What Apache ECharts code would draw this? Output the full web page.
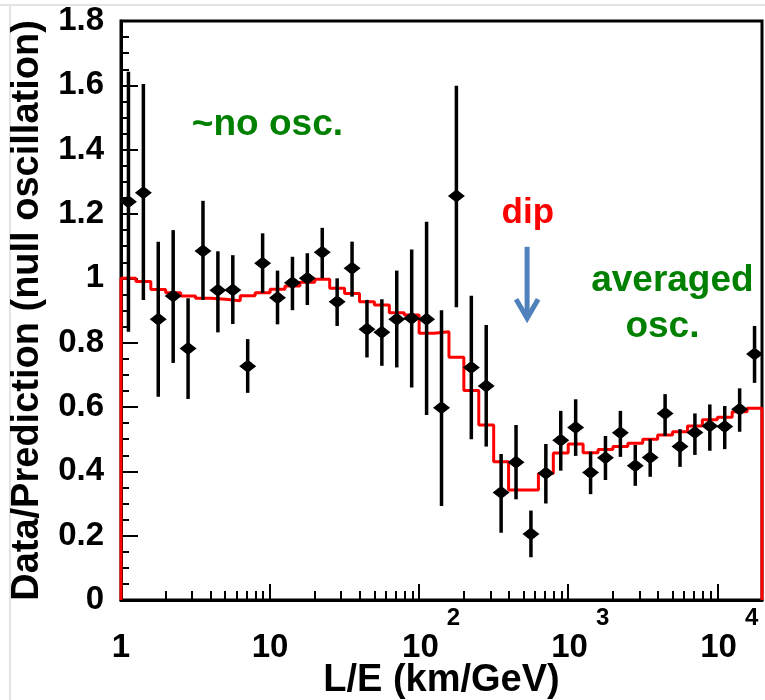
<!DOCTYPE html>
<html>
<head>
<meta charset="utf-8">
<script src="https://cdn.jsdelivr.net/npm/echarts@6/dist/echarts.min.js"></script>
<style>
  html, body { margin: 0; padding: 0; background: #fff; }
  #chart { width: 765px; height: 700px; }
</style>
</head>
<body>
<div id="chart"></div>
<script>
// histogram bin edges in L/E (km/GeV)
const binEdges = [1, 1.259, 1.585, 1.995, 2.512, 3.162, 3.981, 5.012, 6.310, 7.943,
  10, 12.59, 15.85, 19.95, 25.12, 31.62, 39.81, 50.12, 63.10, 79.43,
  100, 125.9, 158.5, 199.5, 251.2, 316.2, 398.1, 501.2, 631.0, 794.3,
  1000, 1259, 1585, 1995, 2512, 3162, 3981, 5012, 6310, 7943,
  10000, 12589, 15849, 19953];

// red prediction (oscillation fit), one value per bin
const predicted = [1.0, 0.99, 0.965, 0.955, 0.945, 0.938, 0.935, 0.93, 0.946, 0.955,
  0.966, 0.976, 0.988, 0.997, 0.969, 0.953, 0.927, 0.917, 0.893, 0.886,
  0.829, 0.834, 0.755, 0.651, 0.544, 0.43, 0.342, 0.342, 0.393, 0.457,
  0.485, 0.458, 0.468, 0.477, 0.487, 0.5, 0.513, 0.523, 0.541, 0.56,
  0.568, 0.585, 0.596];

// data points
const pointLE = [1.122, 1.413, 1.778, 2.239, 2.818, 3.548, 4.467, 5.623, 7.079, 8.913,
  11.22, 14.13, 17.78, 22.39, 28.18, 35.48, 44.67, 56.23, 70.79, 89.13,
  112.2, 141.3, 177.8, 223.9, 281.8, 354.8, 446.7, 562.3, 707.9, 891.3,
  1122, 1413, 1778, 2239, 2818, 3548, 4467, 5623, 7079, 8913,
  11220, 14125, 17783];
const ratio = [1.238, 1.266, 0.873, 0.945, 0.782, 1.085, 0.963, 0.964, 0.727, 1.047,
  0.94, 0.986, 1.0, 1.081, 0.927, 1.031, 0.842, 0.832, 0.873, 0.876,
  0.873, 0.598, 1.256, 0.723, 0.665, 0.334, 0.428, 0.205, 0.394, 0.497,
  0.536, 0.396, 0.442, 0.52, 0.417, 0.443, 0.58, 0.477, 0.521, 0.541,
  0.539, 0.593, 0.765];
const errLow = [0.834, 0.933, 0.632, 0.737, 0.625, 0.933, 0.832, 0.858, 0.644, 0.955,
  0.857, 0.901, 0.917, 1.0, 0.852, 0.943, 0.754, 0.728, 0.723, 0.661,
  0.575, 0.292, 0.91, 0.5, 0.477, 0.209, 0.313, 0.133, 0.3, 0.402,
  0.448, 0.329, 0.373, 0.445, 0.355, 0.383, 0.51, 0.414, 0.451, 0.464,
  0.469, 0.523, 0.675];
const errHigh = [1.642, 1.604, 1.114, 1.15, 0.938, 1.241, 1.084, 1.072, 0.811, 1.14,
  1.024, 1.067, 1.078, 1.157, 1.0, 1.114, 0.933, 0.935, 1.024, 1.09,
  1.176, 0.901, 1.599, 0.946, 0.855, 0.454, 0.544, 0.278, 0.485, 0.588,
  0.624, 0.461, 0.51, 0.588, 0.482, 0.5, 0.64, 0.531, 0.58, 0.608,
  0.603, 0.658, 0.852];

// axis ticks
const majorX = [1, 10, 100, 1000, 10000];
const minorX = [2, 3, 4, 5, 6, 7, 8, 9, 20, 30, 40, 50, 60, 70, 80, 90,
  200, 300, 400, 500, 600, 700, 800, 900, 2000, 3000, 4000, 5000, 6000, 7000, 8000, 9000];

// annotations (data coordinates)
const notes = [
  { text: '~no osc.', at: [9.6, 1.477], color: '#008000', size: 37 },
  { text: 'dip', at: [536, 1.203], color: '#ff0000', size: 35 },
  { text: 'averaged', at: [5000, 0.992], color: '#008000', size: 37 },
  { text: 'osc.', at: [4285, 0.849], color: '#008000', size: 37 }
];
const arrowFrom = [530, 1.098];
const arrowTo = [530, 0.87];

const FONT = "'Liberation Sans', Arial, sans-serif";

const histData = [[binEdges[0], 0]];
predicted.forEach((v, i) => histData.push([binEdges[i], v]));
histData.push([binEdges[binEdges.length - 1], predicted[predicted.length - 1]]);
histData.push([binEdges[binEdges.length - 1], 0]);

const pointData = pointLE.map((x, i) => [x, ratio[i], errLow[i], errHigh[i]]);

const chart = echarts.init(document.getElementById('chart'));

const xLog = {
  type: 'log',
  logBase: 10,
  min: 1,
  max: 19953,
  position: 'bottom',
  splitLine: { show: false },
  minorTick: { show: false },
  minorSplitLine: { show: false }
};

const option = {
  backgroundColor: '#fff',
  animation: false,
  grid: {
    left: 121,
    right: 3,
    top: 21,
    bottom: 100,
    show: true,
    borderColor: '#000',
    borderWidth: 3,
    backgroundColor: 'transparent',
    outerBoundsMode: 'none'
  },
  xAxis: [
    Object.assign({}, xLog, {
      axisLine: { show: true, lineStyle: { color: '#000', width: 3 } },
      axisTick: { show: true, inside: true, length: 16, customValues: majorX,
        lineStyle: { color: '#000', width: 2 } },
      axisLabel: {
        customValues: majorX,
        margin: 6,
        hideOverlap: false,
        formatter: v => {
          const e = Math.round(Math.log10(v));
          return e < 2 ? '{b|' + Math.pow(10, e) + '}' : '{bp|10}{s|' + e + '}';
        },
        rich: {
          b: { fontSize: 33, fontWeight: 'bold', fontFamily: FONT, color: '#000',
            lineHeight: 58, verticalAlign: 'bottom' },
          bp: { fontSize: 33, fontWeight: 'bold', fontFamily: FONT, color: '#000',
            lineHeight: 58, verticalAlign: 'bottom', padding: [0, 0, 0, 24] },
          s: { fontSize: 24, fontWeight: 'bold', fontFamily: FONT, color: '#000',
            verticalAlign: 'top', padding: [0, 0, 0, 8] }
        }
      },
      name: 'L/E (km/GeV)',
      nameLocation: 'middle',
      nameGap: 62,
      nameMoveOverlap: false,
      nameTextStyle: { fontSize: 38, fontWeight: 'bold', fontFamily: FONT, color: '#000' }
    }),
    Object.assign({}, xLog, {
      axisLine: { show: false },
      axisTick: { show: true, inside: true, length: 9, customValues: minorX,
        lineStyle: { color: '#000', width: 2 } },
      axisLabel: { show: false }
    })
  ],
  yAxis: {
    type: 'value',
    min: 0,
    max: 1.8,
    interval: 0.2,
    splitLine: { show: false },
    axisLine: { show: true, lineStyle: { color: '#000', width: 3 } },
    axisTick: { show: true, inside: true, length: 17, lineStyle: { color: '#000', width: 2 } },
    minorTick: { show: true, splitNumber: 4, length: 8, lineStyle: { color: '#000', width: 2 } },
    axisLabel: { fontSize: 33, fontWeight: 'bold', fontFamily: FONT, color: '#000', margin: 17 },
    name: 'Data/Prediction (null oscillation)',
    nameLocation: 'middle',
    nameGap: 74,
    nameMoveOverlap: false,
    nameTextStyle: { fontSize: 38, fontWeight: 'bold', fontFamily: FONT, color: '#000' }
  },
  series: [
    {
      type: 'line',
      name: 'prediction',
      data: histData,
      step: 'end',
      symbol: 'none',
      clip: false,
      z: 3,
      lineStyle: { color: '#ff0000', width: 3 }
    },
    {
      type: 'custom',
      name: 'data',
      data: pointData,
      encode: { x: 0, y: 1 },
      z: 4,
      renderItem: (params, api) => {
        const p = api.coord([api.value(0), api.value(1)]);
        const lo = api.coord([api.value(0), api.value(2)]);
        const hi = api.coord([api.value(0), api.value(3)]);
        return {
          type: 'group',
          children: [
            { type: 'line', shape: { x1: p[0], y1: hi[1], x2: p[0], y2: lo[1] },
              style: { stroke: '#000', lineWidth: 3.5 } },
            { type: 'polygon',
              shape: { points: [[p[0] - 8.5, p[1]], [p[0], p[1] - 6.5], [p[0] + 8.5, p[1]], [p[0], p[1] + 6.5]] },
              style: { fill: '#000' } },
            { type: 'circle', shape: { cx: p[0], cy: p[1], r: 5 }, style: { fill: '#000' } }
          ]
        };
      }
    }
  ]
};

chart.setOption(option);

// annotations placed from data coordinates
const toPx = v => chart.convertToPixel({ xAxisIndex: 0, yAxisIndex: 0 }, v);
const graphics = [
  { type: 'line', shape: { x1: 0, y1: 5, x2: 765, y2: 5 }, style: { stroke: '#e4e4e4', lineWidth: 2 }, silent: true },
  { type: 'line', shape: { x1: 10, y1: 5, x2: 10, y2: 700 }, style: { stroke: '#e4e4e4', lineWidth: 2 }, silent: true }
];
notes.forEach(n => {
  const p = toPx(n.at);
  graphics.push({
    type: 'text', x: p[0], y: p[1], z: 10,
    style: { text: n.text, fill: n.color, font: 'bold ' + n.size + 'px ' + FONT,
      textAlign: 'center', textVerticalAlign: 'middle' }
  });
});
const a0 = toPx(arrowFrom);
const a1 = toPx(arrowTo);
graphics.push(
  { type: 'line', z: 10, shape: { x1: a0[0], y1: a0[1], x2: a1[0], y2: a1[1] - 2 },
    style: { stroke: '#4f81bd', lineWidth: 5 } },
  { type: 'polyline', z: 10,
    shape: { points: [[a1[0] - 11, a1[1] - 21], [a1[0], a1[1] - 2], [a1[0] + 11, a1[1] - 21]] },
    style: { stroke: '#4f81bd', lineWidth: 5, fill: null, lineJoin: 'miter' } }
);
chart.setOption({ graphic: graphics });
</script>
</body>
</html>
